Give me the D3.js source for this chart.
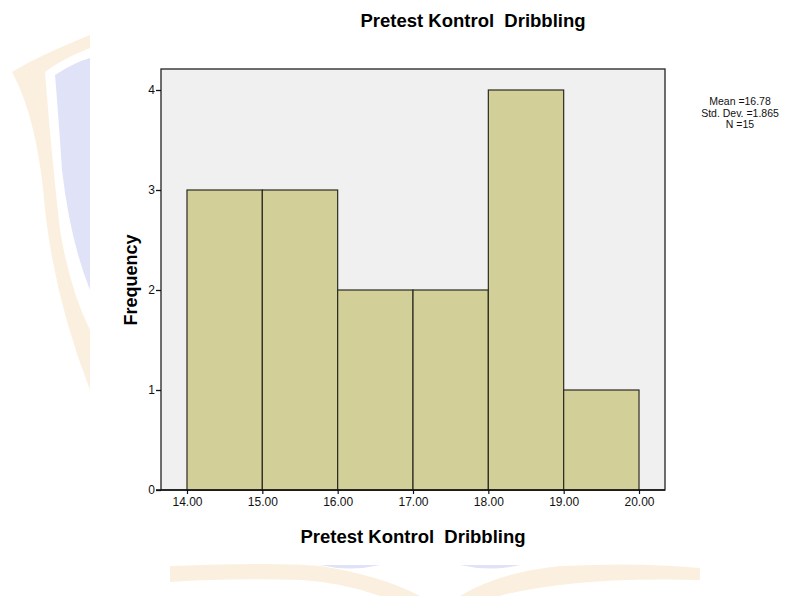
<!DOCTYPE html>
<html>
<head>
<meta charset="utf-8">
<script src="https://cdn.jsdelivr.net/npm/d3@7"></script>
<style>
  body { margin: 0; background: #fff; }
  text { font-family: "Liberation Sans", Arial, sans-serif; }
</style>
</head>
<body>
<div id="chart"></div>
<script>
// histogram data
var binEdges = [14, 15, 16, 17, 18, 19, 20];
var counts = [3, 3, 2, 2, 4, 1];
var xTicks = [14, 15, 16, 17, 18, 19, 20];
var yTicks = [0, 1, 2, 3, 4];
var statsLines = ["Mean =16.78", "Std. Dev. =1.865", "N =15"];
var titleText = "Pretest Kontrol  Dribbling";

var width = 805, height = 596;
var frame = {left: 161, top: 69, right: 665, bottom: 490};

var svg = d3.select("#chart").append("svg")
  .attr("width", width)
  .attr("height", height);

// faint watermark behind the chart
var wm = svg.append("g");
wm.append("path")
  .attr("d", "M55,75 Q75,62 90,58 L90,290 Q70,240 62,170 Q58,110 55,75 Z")
  .style("fill", "#e0e2f7");
wm.append("path")
  .attr("d", "M12,72 Q40,55 90,35 L90,48 Q60,60 45,72 Q52,160 60,230 Q70,290 90,330 L90,390 Q55,300 45,210 Q38,120 12,72 Z")
  .style("fill", "#fbf0e0");
wm.append("path")
  .attr("d", "M170,566 Q280,562 320,566 Q380,575 420,596 L460,596 Q500,572 560,566 Q640,562 700,568 L700,580 Q620,578 560,585 Q520,590 500,596 L380,596 Q340,582 300,580 Q230,578 170,582 Z")
  .style("fill", "#fbf0e0");
wm.append("path")
  .attr("d", "M320,565 Q350,572 380,565 Z M460,565 Q490,572 520,565 Z")
  .style("fill", "#e0e2f7");

// scales
var x = d3.scaleLinear().domain([13.655, 20.345]).range([frame.left, frame.right]);
var y = d3.scaleLinear().domain([0, 4.21]).range([frame.bottom, frame.top]);

// plot background
svg.append("rect")
  .attr("x", frame.left)
  .attr("y", frame.top)
  .attr("width", frame.right - frame.left)
  .attr("height", frame.bottom - frame.top)
  .style("fill", "#f0f0f0")
  .style("stroke", "#222")
  .style("stroke-width", 1.3);

// bars
var bins = counts.map(function(c, i) { return {x0: binEdges[i], x1: binEdges[i + 1], n: c}; });
svg.selectAll("rect.bar")
  .data(bins)
  .enter().append("rect")
  .attr("class", "bar")
  .attr("x", function(d) { return x(d.x0); })
  .attr("y", function(d) { return y(d.n); })
  .attr("width", function(d) { return x(d.x1) - x(d.x0); })
  .attr("height", function(d) { return y(0) - y(d.n); })
  .style("fill", "#d3cf98")
  .style("stroke", "#2b2b22")
  .style("stroke-width", 1.2);

// axes
var yAxis = d3.axisLeft(y).tickValues(yTicks).tickFormat(d3.format("d")).tickSize(5).tickPadding(1);
var gy = svg.append("g")
  .attr("transform", "translate(" + frame.left + ",0)")
  .call(yAxis);
gy.select(".domain").remove();
gy.selectAll("text").style("font-size", "12px").style("fill", "#111");
gy.selectAll("line").style("stroke", "#111").style("stroke-width", 1.3);

var xAxis = d3.axisBottom(x).tickValues(xTicks).tickFormat(d3.format(".2f")).tickSize(4).tickPadding(3);
var gx = svg.append("g")
  .attr("transform", "translate(0," + frame.bottom + ")")
  .call(xAxis);
gx.select(".domain").remove();
gx.selectAll("text").style("font-size", "12px").style("fill", "#111");
gx.selectAll("line").style("stroke", "#111").style("stroke-width", 1.2);

// bottom axis line extends slightly left like the reference
svg.append("line")
  .attr("x1", frame.left - 5).attr("x2", frame.right)
  .attr("y1", frame.bottom).attr("y2", frame.bottom)
  .style("stroke", "#111").style("stroke-width", 1.6);

// titles
svg.append("text")
  .attr("x", 473).attr("y", 27)
  .attr("text-anchor", "middle")
  .style("font-size", "18.5px").style("font-weight", "bold")
  .style("white-space", "pre")
  .text(titleText);

svg.append("text")
  .attr("x", 413).attr("y", 543)
  .attr("text-anchor", "middle")
  .style("font-size", "18.5px").style("font-weight", "bold")
  .style("white-space", "pre")
  .text(titleText);

svg.append("text")
  .attr("transform", "translate(137,280) rotate(-90)")
  .attr("text-anchor", "middle")
  .style("font-size", "18px").style("font-weight", "bold")
  .text("Frequency");

// statistics box
svg.append("g").selectAll("text")
  .data(statsLines)
  .enter().append("text")
  .attr("x", 740)
  .attr("y", function(d, i) { return 105 + i * 11.5; })
  .attr("text-anchor", "middle")
  .style("font-size", "10.5px")
  .style("fill", "#111")
  .text(function(d) { return d; });
</script>
</body>
</html>
